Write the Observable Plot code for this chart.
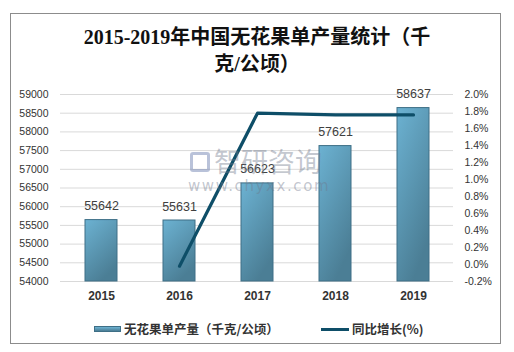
<!DOCTYPE html>
<html><head><meta charset="utf-8">
<script src="https://cdn.jsdelivr.net/npm/d3@7"></script>
<script src="https://cdn.jsdelivr.net/npm/@observablehq/plot@0.6"></script>
<style>
body{margin:0;background:#fff;}
#wrap{position:relative;width:514px;height:352px;overflow:hidden;font-family:"Noto Sans CJK SC",sans-serif;}
#frame{position:absolute;left:10px;top:13px;width:491px;height:331px;border:1px solid #8c8c8c;box-sizing:border-box;}
#title{position:absolute;left:0;top:24px;width:514px;text-align:center;font-family:"Liberation Serif","Noto Sans CJK SC",serif;font-weight:bold;font-size:20px;line-height:27px;color:#111;}
#title span{display:block;}
#chart{position:absolute;left:0;top:80px;}
#legend{position:absolute;left:0;top:319px;width:514px;height:20px;font-size:12.5px;font-weight:bold;color:#333;}
.sw{position:absolute;}
.lt{position:absolute;top:0;line-height:20px;white-space:nowrap;}
#wm{position:absolute;left:0;top:0;pointer-events:none;color:rgba(110,120,140,0.42);}
</style>
</head><body>
<div id="wrap">
  <div id="frame"></div>
  <div id="title"><span>2015-2019年中国无花果单产量统计（千</span><span>克/公顷）</span></div>
  <div id="chart"></div>
  <div id="wm">
    <div style="position:absolute;left:190px;top:152px;width:20px;height:20px;border:3px solid rgba(100,120,170,0.45);border-radius:3px;box-sizing:border-box;"></div>
    <div style="position:absolute;left:214px;top:144px;font-size:27px;line-height:34px;white-space:nowrap;">智研咨询</div>
    <div style="position:absolute;left:188px;top:176px;font-family:'DejaVu Sans',sans-serif;font-size:15px;letter-spacing:1.6px;line-height:20px;white-space:nowrap;">www.chyxx.com</div>
  </div>
  <div id="legend">
    <div class="sw" style="left:94px;top:7px;width:27px;height:6px;background:linear-gradient(#6db3d3,#4a7d94);border:1px solid #3e6f86;box-sizing:border-box;"></div>
    <div class="lt" style="left:124px;">无花果单产量（千克/公顷）</div>
    <div class="sw" style="left:321px;top:9px;width:28px;height:3px;background:#0e4e68;"></div>
    <div class="lt" style="left:352px;">同比增长(%)</div>
  </div>
</div>
<script>
const years = ["2015","2016","2017","2018","2019"];
const yields = [55642,55631,56623,57621,58637];
const growthYears = ["2016","2017","2018","2019"];
const growth = [-0.02,1.78,1.76,1.76];
const leftTicks = [54000,54500,55000,55500,56000,56500,57000,57500,58000,58500,59000];
const rightTicks = [-0.2,0,0.2,0.4,0.6,0.8,1.0,1.2,1.4,1.6,1.8,2.0];

const yMin = leftTicks[0], yMax = leftTicks[leftTicks.length-1];
const pMin = rightTicks[0], pMax = rightTicks[rightTicks.length-1];
const toY = p => yMin + (p - pMin) / (pMax - pMin) * (yMax - yMin);
const fromY = v => pMin + (v - yMin) / (yMax - yMin) * (pMax - pMin);

const bars = years.map((y,i)=>({year:y, v:yields[i], base:yMin}));
const line = growthYears.map((y,i)=>({year:y, p:growth[i], m:toY(growth[i])}));

const svg = Plot.plot({
  width: 514, height: 225,
  marginTop: 14, marginBottom: 24, marginLeft: 60, marginRight: 61,
  style: {fontFamily: "'Liberation Sans', Arial, sans-serif", fontSize: "10.5px", color: "#333", background: "transparent"},
  x: {domain: years, paddingInner: 0.59, paddingOuter: 0.295, label: null},
  y: {domain: [yMin, yMax], label: null},
  marks: [
    Plot.gridY(leftTicks, {stroke: "#d9d9d9", strokeOpacity: 1}),
    Plot.axisY(leftTicks, {anchor: "left", tickSize: 0, tickPadding: 12, label: null, tickFormat: d => String(d)}),
    Plot.axisY(rightTicks.map(toY), {anchor: "right", tickSize: 0, tickPadding: 11, label: null, tickFormat: v => fromY(v).toFixed(1) + "%"}),
    Plot.axisX({tickSize: 0, tickPadding: 10, label: null, fontWeight: "bold", fontSize: 12}),
    Plot.barY(bars, {x: "year", y1: "base", y2: "v", fill: "url(#barGrad)", stroke: "#3e6f86", strokeWidth: 1}),
    Plot.text(bars, {x: "year", y: "v", text: d => String(d.v), dy: -14, fontSize: 12.5, fill: "#404040"}),
    Plot.line(line, {x: "year", y: "m", stroke: "#0e4e68", strokeWidth: 3.2})
  ]
});
svg.insertAdjacentHTML("afterbegin", `<defs><linearGradient id="barGrad" x1="0" y1="0" x2="0.5" y2="1"><stop offset="0" stop-color="#6cb2d2"/><stop offset="1" stop-color="#4b7e95"/></linearGradient></defs>`);
document.getElementById("chart").appendChild(svg);
</script>
</body></html>
